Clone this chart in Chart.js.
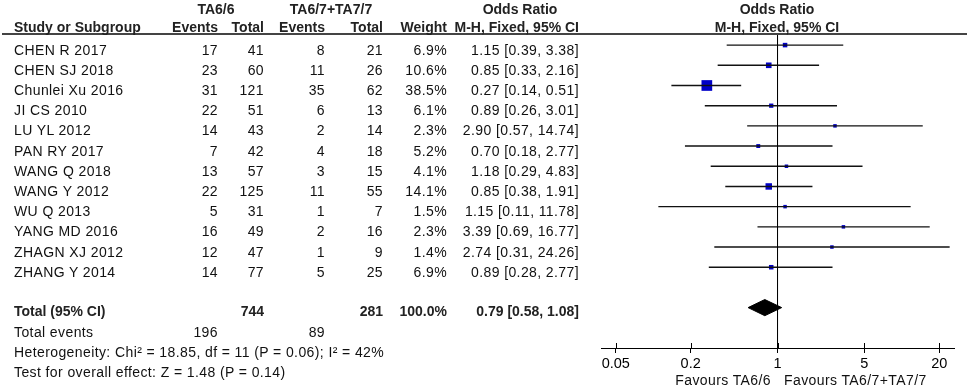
<!DOCTYPE html>
<html>
<head>
<meta charset="utf-8">
<script src="https://cdn.jsdelivr.net/npm/chart.js@4"></script>
<style>
  html, body { margin: 0; padding: 0; background: #fff; }
  #wrap { position: relative; width: 969px; height: 388px; overflow: hidden; }
  #plot { position: absolute; left: 0; top: 0; }
  .t {
    position: absolute; white-space: nowrap;
    font-family: "Liberation Sans", Arial, sans-serif;
    font-size: 14px; line-height: 16px; color: #111; letter-spacing: 0.4px;
  }
  .b { font-weight: bold; color: #222; letter-spacing: 0; }
  .hline { position: absolute; left: 2px; top: 33px; width: 965px; height: 2px; background: #444; }
</style>
</head>
<body>
<div id="wrap">
  <canvas id="plot" width="969" height="388"></canvas>
  <div class="hline"></div>
</div>
<script>
// ------------------------
// DATA
// ------------------------

const studies = ["CHEN R 2017", "CHEN SJ 2018", "Chunlei Xu 2016", "JI CS 2010", "LU YL 2012",
    "PAN RY 2017", "WANG Q 2018", "WANG Y 2012", "WU Q 2013", "YANG MD 2016",
    "ZHAGN XJ 2012", "ZHANG Y 2014"];

const events66 = [17, 23, 31, 22, 14, 7, 13, 22, 5, 16, 12, 14];
const total66 = [41, 60, 121, 51, 43, 42, 57, 125, 31, 49, 47, 77];
const events67 = [8, 11, 35, 6, 2, 4, 3, 11, 1, 2, 1, 5];
const total67 = [21, 26, 62, 13, 14, 18, 15, 55, 7, 16, 9, 25];
const weights = [6.9, 10.6, 38.5, 6.1, 2.3, 5.2, 4.1, 14.1, 1.5, 2.3, 1.4, 6.9];
const oddsRatio = [1.15, 0.85, 0.27, 0.89, 2.90, 0.70, 1.18, 0.85, 1.15, 3.39, 2.74, 0.89];
const ciLow = [0.39, 0.33, 0.14, 0.26, 0.57, 0.18, 0.29, 0.38, 0.11, 0.69, 0.31, 0.28];
const ciHigh = [3.38, 2.16, 0.51, 3.01, 14.74, 2.77, 4.83, 1.91, 11.78, 16.77, 24.26, 2.77];

const totals = [744, 281];
const totalEvents = [196, 89];
const totalWeight = 100.0;
const totalOR = [0.79, 0.58, 1.08];   // estimate, low, high

const tickValues = [0.05, 0.2, 1, 5, 20];
const tickLabels = ["0.05", "0.2", "1", "5", "20"];

const heterogeneityText = "Heterogeneity: Chi\u00b2 = 18.85, df = 11 (P = 0.06); I\u00b2 = 42%";
const overallText = "Test for overall effect: Z = 1.48 (P = 0.14)";

// ------------------------
// TABLE TEXT
// ------------------------

const wrap = document.getElementById("wrap");

function put(txt, x, y, align, bold) {
    const d = document.createElement("div");
    d.className = "t" + (bold ? " b" : "");
    d.textContent = txt;
    d.style.left = x + "px";
    d.style.top = y + "px";
    const tx = align === "right" ? "-100%" : align === "center" ? "-50%" : "0";
    d.style.transform = `translate(${tx}, -50%)`;
    wrap.appendChild(d);
}

const COL = { name: 14, ev1: 218, tot1: 264, ev2: 325, tot2: 383, weight: 447, or: 579 };
const fmtOR = (v, l, h) => `${v.toFixed(2)} [${l.toFixed(2)}, ${h.toFixed(2)}]`;

// headers
put("TA6/6", 216, 9, "center", true);
put("TA6/7+TA7/7", 331, 9, "center", true);
put("Odds Ratio", 520, 9, "center", true);
put("Odds Ratio", 777, 9, "center", true);

put("Study or Subgroup", COL.name, 27, "left", true);
put("Events", COL.ev1, 27, "right", true);
put("Total", COL.tot1, 27, "right", true);
put("Events", COL.ev2, 27, "right", true);
put("Total", COL.tot2, 27, "right", true);
put("Weight", COL.weight, 27, "right", true);
put("M-H, Fixed, 95% CI", COL.or, 27, "right", true);
put("M-H, Fixed, 95% CI", 777, 27, "center", true);

// study rows
studies.forEach((s, i) => {
    const y = 49.5 + 20.2 * i;
    put(s, COL.name, y, "left");
    put(String(events66[i]), COL.ev1, y, "right");
    put(String(total66[i]), COL.tot1, y, "right");
    put(String(events67[i]), COL.ev2, y, "right");
    put(String(total67[i]), COL.tot2, y, "right");
    put(weights[i].toFixed(1) + "%", COL.weight, y, "right");
    put(fmtOR(oddsRatio[i], ciLow[i], ciHigh[i]), COL.or, y, "right");
});

// totals
put("Total (95% CI)", COL.name, 311, "left", true);
put(String(totals[0]), COL.tot1, 311, "right", true);
put(String(totals[1]), COL.tot2, 311, "right", true);
put(totalWeight.toFixed(1) + "%", COL.weight, 311, "right", true);
put(fmtOR(totalOR[0], totalOR[1], totalOR[2]), COL.or, 311, "right", true);

put("Total events", COL.name, 332, "left");
put(String(totalEvents[0]), COL.ev1, 332, "right");
put(String(totalEvents[1]), COL.ev2, 332, "right");
put(heterogeneityText, COL.name, 352, "left");
put(overallText, COL.name, 372, "left");

put("Favours TA6/6", 771, 380, "right");
put("Favours TA6/7+TA7/7", 784, 380, "left");

// ------------------------
// FOREST PLOT
// ------------------------

const Y_MIN = -0.5;
const Y_MAX = 15;
const TOTAL_ROW = 13;

const datasets = [];

// line of no effect
datasets.push({
    data: [{ x: 1, y: Y_MIN }, { x: 1, y: Y_MAX }],
    showLine: true, borderColor: "#000", borderWidth: 1, pointRadius: 0
});

// confidence intervals
studies.forEach((s, i) => {
    datasets.push({
        data: [{ x: ciLow[i], y: i }, { x: ciHigh[i], y: i }],
        showLine: true, borderColor: "#111", borderWidth: 1.4, pointRadius: 0
    });
});

// weighted squares
datasets.push({
    data: oddsRatio.map((v, i) => ({ x: v, y: i })),
    pointStyle: "rect",
    pointRadius: weights.map(w => Math.max(3.5, 10.7 * Math.sqrt(w / 38.5)) / Math.SQRT2),
    backgroundColor: "#0000c8",
    borderColor: "#0000c8",
    pointBorderWidth: 0
});

// pooled diamond
datasets.push({
    data: [
        { x: totalOR[1], y: TOTAL_ROW },
        { x: totalOR[0], y: TOTAL_ROW - 0.4 },
        { x: totalOR[2], y: TOTAL_ROW },
        { x: totalOR[0], y: TOTAL_ROW + 0.4 },
        { x: totalOR[1], y: TOTAL_ROW }
    ],
    showLine: true, fill: "shape", backgroundColor: "#000", borderColor: "#000",
    borderWidth: 1, pointRadius: 0
});

// small tick marks above the axis line
const upTicks = {
    id: "upTicks",
    afterDraw(chart) {
        const sx = chart.scales.x;
        const ctx = chart.ctx;
        ctx.save();
        ctx.strokeStyle = "#000";
        ctx.lineWidth = 1;
        tickValues.forEach(v => {
            const px = Math.round(sx.getPixelForValue(v)) + 0.5;
            ctx.beginPath();
            ctx.moveTo(px, sx.top);
            ctx.lineTo(px, sx.top - 5);
            ctx.stroke();
        });
        ctx.restore();
    }
};

new Chart(document.getElementById("plot"), {
    type: "scatter",
    data: { datasets },
    plugins: [upTicks],
    options: {
        responsive: false,
        animation: false,
        events: [],
        layout: { padding: { left: 601, right: 15, top: 35, bottom: 0 } },
        plugins: { legend: { display: false }, tooltip: { enabled: false } },
        scales: {
            x: {
                type: "logarithmic",
                position: "bottom",
                min: 0.038,
                max: 26.3,
                afterBuildTicks: s => { s.ticks = tickValues.map(v => ({ value: v })); },
                afterFit: s => { s.height = 40; s.paddingLeft = 0; s.paddingRight = 0; },
                border: { display: true, color: "#000", width: 1 },
                grid: { display: true, drawOnChartArea: false, drawTicks: true, tickLength: 5, color: "#000", tickColor: "#000" },
                ticks: {
                    autoSkip: false, maxRotation: 0, padding: 2, color: "#000",
                    font: { family: "Liberation Sans", size: 14.5 },
                    callback: (v, i) => tickLabels[i]
                }
            },
            y: { type: "linear", min: Y_MIN, max: Y_MAX, reverse: true, display: false }
        }
    }
});
</script>
</body>
</html>
